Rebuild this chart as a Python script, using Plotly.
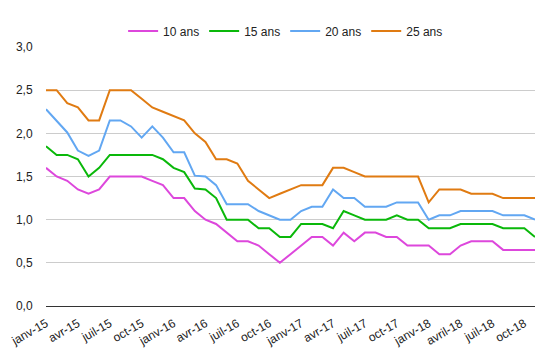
import plotly.graph_objects as go

# Monthly categories janv-15 .. nov-18 (47 months)
month_names = ["janv", "févr", "mars", "avr", "mai", "juin",
               "juil", "août", "sept", "oct", "nov", "déc"]
years = ["15", "16", "17", "18"]
categories = [f"{m}-{y}" for y in years for m in month_names][:47]

tick_vals = categories[::3]
tick_text = ["janv-15", "avr-15", "juil-15", "oct-15",
             "janv-16", "avr-16", "juil-16", "oct-16",
             "janv-17", "avr-17", "juil-17", "oct-17",
             "janv-18", "avril-18", "juil-18", "oct-18"]

taux_10 = [1.6, 1.5, 1.45, 1.35, 1.3, 1.35, 1.5, 1.5, 1.5, 1.5, 1.45, 1.4,
           1.25, 1.25, 1.1, 1.0, 0.95, 0.85, 0.75, 0.75, 0.7, 0.6, 0.5, 0.6,
           0.7, 0.8, 0.8, 0.7, 0.85, 0.75, 0.85, 0.85, 0.8, 0.8, 0.7, 0.7,
           0.7, 0.6, 0.6, 0.7, 0.75, 0.75, 0.75, 0.65, 0.65, 0.65, 0.65]
taux_15 = [1.85, 1.75, 1.75, 1.7, 1.5, 1.6, 1.75, 1.75, 1.75, 1.75, 1.75, 1.7,
           1.6, 1.55, 1.36, 1.35, 1.25, 1.0, 1.0, 1.0, 0.9, 0.9, 0.8, 0.8,
           0.95, 0.95, 0.95, 0.9, 1.1, 1.05, 1.0, 1.0, 1.0, 1.05, 1.0, 1.0,
           0.9, 0.9, 0.9, 0.95, 0.95, 0.95, 0.95, 0.9, 0.9, 0.9, 0.8]
taux_20 = [2.28, 2.15, 2.01, 1.8, 1.74, 1.8, 2.15, 2.15, 2.08, 1.95, 2.08, 1.95,
           1.78, 1.78, 1.51, 1.5, 1.4, 1.18, 1.18, 1.18, 1.1, 1.05, 1.0, 1.0,
           1.1, 1.15, 1.15, 1.35, 1.25, 1.25, 1.15, 1.15, 1.15, 1.2, 1.2, 1.2,
           1.0, 1.05, 1.05, 1.1, 1.1, 1.1, 1.1, 1.05, 1.05, 1.05, 1.0]
taux_25 = [2.5, 2.5, 2.35, 2.3, 2.15, 2.15, 2.5, 2.5, 2.5, 2.4, 2.3, 2.25,
           2.2, 2.15, 2.0, 1.9, 1.7, 1.7, 1.65, 1.45, 1.35, 1.25, 1.3, 1.35,
           1.4, 1.4, 1.4, 1.6, 1.6, 1.55, 1.5, 1.5, 1.5, 1.5, 1.5, 1.5,
           1.2, 1.35, 1.35, 1.35, 1.3, 1.3, 1.3, 1.25, 1.25, 1.25, 1.25]

series = [
    ("10 ans", taux_10, "#DD47DC"),
    ("15 ans", taux_15, "#0AB80A"),
    ("20 ans", taux_20, "#62A7F2"),
    ("25 ans", taux_25, "#E07B12"),
]

fig = go.Figure()
for name, vals, color in series:
    fig.add_trace(go.Scatter(x=categories, y=vals, name=name, mode="lines",
                             line=dict(color=color, width=2)))

font_family = "Liberation Sans, Arial, sans-serif"
fig.update_layout(
    width=549, height=353,
    margin=dict(l=46, r=14, t=47, b=47),
    paper_bgcolor="white", plot_bgcolor="white",
    separators=", ",
    font=dict(family=font_family, size=12, color="#222222"),
    showlegend=True,
    legend=dict(orientation="h", x=0.49, xanchor="center", y=1.062,
                yanchor="middle", font=dict(size=12, color="#222222"),
                bgcolor="rgba(0,0,0,0)"),
    xaxis=dict(type="category", tickmode="array", tickvals=tick_vals,
               ticktext=tick_text, tickangle=-30, showgrid=False,
               showline=False, zeroline=False, ticks="outside", ticklen=5,
               tickcolor="rgba(0,0,0,0)", tickfont=dict(size=12),
               automargin=False),
    yaxis=dict(range=[0, 3.0], tickmode="array",
               tickvals=[0, 0.5, 1.0, 1.5, 2.0, 2.5, 3.0],
               tickformat=".1f", showgrid=True, gridcolor="#CCCCCC",
               gridwidth=1, zeroline=True, zerolinecolor="#333333",
               zerolinewidth=1, showline=False, ticks="outside", ticklen=10,
               tickcolor="rgba(0,0,0,0)", tickfont=dict(size=12),
               automargin=False),
)

fig.write_html("out.html")
